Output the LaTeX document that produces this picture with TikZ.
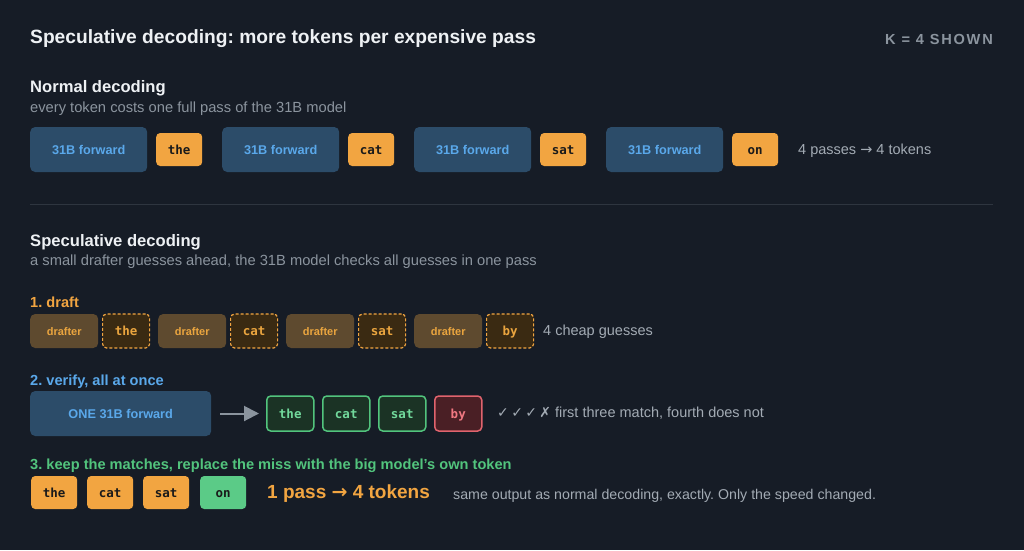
\documentclass[tikz,border=0pt]{standalone}
\usepackage{fontspec}
\setmainfont{Liberation Sans}
\setmonofont{DejaVu Sans Mono}
\newfontfamily\symfont{DejaVu Sans}
\usetikzlibrary{arrows.meta}
\frenchspacing
\definecolor{bgc}{HTML}{161C26}
\definecolor{headc}{HTML}{EEF1F4}
\definecolor{subc}{HTML}{8B949E}
\definecolor{notec}{HTML}{A3ABB4}
\definecolor{sepc}{HTML}{2E353F}
\definecolor{fwdfill}{HTML}{2C4C69}
\definecolor{fwdtext}{HTML}{5AA8EA}
\definecolor{tokorange}{HTML}{F2A541}
\definecolor{tokdark}{HTML}{1A1A1A}
\definecolor{drftfill}{HTML}{5E4A2F}
\definecolor{drfttext}{HTML}{EAA53F}
\definecolor{guessfill}{HTML}{3A2A12}
\definecolor{okline}{HTML}{52C47D}
\definecolor{okfill}{HTML}{1B3325}
\definecolor{oktext}{HTML}{72D99C}
\definecolor{missline}{HTML}{E0636D}
\definecolor{missfill}{HTML}{4A1F25}
\definecolor{misstext}{HTML}{F07882}
\definecolor{newfill}{HTML}{5BCB87}
\tikzstyle{fwdbox}=[rectangle, rounded corners=5pt, inner sep=0pt, minimum width=117pt, minimum height=45pt, text height=9pt, text depth=0pt, fill=fwdfill, text=fwdtext, font=\fontsize{12.7}{15}\selectfont\bfseries]
\tikzstyle{tokbox}=[rectangle, rounded corners=4pt, inner sep=0pt, minimum width=46pt, minimum height=33pt, text height=9pt, text depth=0pt, fill=tokorange, text=tokdark, font=\fontsize{12.5}{15}\selectfont\ttfamily\bfseries]
\tikzstyle{drftbox}=[rectangle, rounded corners=5pt, inner sep=0pt, minimum width=68pt, minimum height=34pt, text height=8pt, text depth=0pt, fill=drftfill, text=drfttext, font=\fontsize{11}{13}\selectfont\bfseries]
\tikzstyle{guessbox}=[rectangle, rounded corners=4pt, inner sep=0pt, minimum width=47pt, minimum height=34pt, text height=9pt, text depth=0pt, fill=guessfill, draw=tokorange, line width=1.2pt, dash pattern=on 3pt off 2pt, text=drfttext, font=\fontsize{12.5}{15}\selectfont\ttfamily\bfseries]
\tikzstyle{okbox}=[rectangle, rounded corners=4pt, inner sep=0pt, minimum width=47pt, minimum height=35pt, text height=9pt, text depth=0pt, fill=okfill, draw=okline, line width=1.5pt, text=oktext, font=\fontsize{12.5}{15}\selectfont\ttfamily\bfseries]
\tikzstyle{missbox}=[okbox, fill=missfill, draw=missline, text=misstext]
\tikzstyle{newbox}=[tokbox, fill=newfill]
\tikzstyle{titlefont}=[inner sep=0pt, text=headc, font=\fontsize{19.2}{23}\selectfont\bfseries]
\tikzstyle{headfont}=[inner sep=0pt, text=headc, font=\fontsize{16.6}{20}\selectfont\bfseries]
\tikzstyle{subfont}=[inner sep=0pt, text=subc, font=\fontsize{14.7}{17}\selectfont]
\tikzstyle{notefont}=[inner sep=0pt, text=notec, font=\fontsize{14.5}{17}\selectfont]
\tikzstyle{stepfont}=[inner sep=0pt, font=\fontsize{14.6}{17}\selectfont\bfseries]

\begin{document}
\begin{tikzpicture}[x=1pt, y=-1pt]
\fill[bgc] (0,0) rectangle (1024,550);

\node[titlefont, anchor=base west] (title) at (30,43.5) {Speculative decoding: more tokens per expensive pass};
\node[stepfont, text=subc, anchor=base east] (kshown) at (993,44) {\addfontfeatures{LetterSpace=12}K = 4 SHOWN};

% normal decoding
\node[headfont, anchor=base west] (normal) at (30,92) {Normal decoding};
\node[subfont, anchor=base west] (normalsub) at (30,112) {every token costs one full pass of the 31B model};
\foreach \t [count=\i from 0] in {the, cat, sat, on} {
	\node[fwdbox, anchor=west] (fwd\i) at (30+192*\i,149.5) {31B forward};
	\node[tokbox, anchor=west] (tok\i) at (156+192*\i,149.5) {\t};
}
\node[notefont, anchor=west] (normalnote) at (798,151) {4 passes {\symfont →} 4 tokens};

\draw[sepc, line width=1.2pt] (30,204.5) -- (993,204.5);

% speculative decoding
\node[headfont, anchor=base west] (spec) at (30,246) {Speculative decoding};
\node[subfont, anchor=base west] (specsub) at (30,265) {a small drafter guesses ahead, the 31B model checks all guesses in one pass};

\node[stepfont, text=tokorange, anchor=base west] (draft) at (30,307) {1. draft};
\foreach \t [count=\i from 0] in {the, cat, sat, by} {
	\node[drftbox, anchor=west] (drft\i) at (30+128*\i,331) {drafter};
	\node[guessbox, anchor=west] (guess\i) at (102+128*\i,331) {\t};
}
\node[notefont, anchor=west] (draftnote) at (543,332) {4 cheap guesses};

\node[stepfont, text=fwdtext, anchor=base west] (verify) at (30,385) {2. verify, all at once};
\node[fwdbox, minimum width=181pt, anchor=west] (onefwd) at (30,413.5) {ONE 31B forward};
\foreach \t [count=\i from 0] in {the, cat, sat}
	\node[okbox, anchor=west] (chk\i) at (266+56*\i,413.5) {\t};
\node[missbox, anchor=west] (chk3) at (434,413.5) {by};
\draw[-{Triangle[length=15pt,width=15pt]}, subc, line width=2pt, shorten <=9pt, shorten >=7pt] (onefwd.east) -- (chk0.west);
\node[notefont, anchor=west] (chknote) at (497,413) {{\symfont\fontsize{14}{16}\selectfont ✓\,✓\,✓\,✗} first three match, fourth does not};

\node[stepfont, text=okline, anchor=base west] (keep) at (30,469) {3. keep the matches, replace the miss with the big model's own token};
\foreach \t [count=\i from 0] in {the, cat, sat}
	\node[tokbox, anchor=west] (keep\i) at (31+56*\i,492.5) {\t};
\node[newbox, anchor=west] (keep3) at (200,492.5) {on};
\node[inner sep=0pt, text=tokorange, font=\fontsize{19}{23}\selectfont\bfseries, anchor=west] (gain) at (267,494) {1 pass {\symfont →} 4 tokens};
\node[notefont, font=\fontsize{14.2}{17}\selectfont, anchor=west] (samenote) at (453,496) {same output as normal decoding, exactly. Only the speed changed.};

\end{tikzpicture}
\end{document}
